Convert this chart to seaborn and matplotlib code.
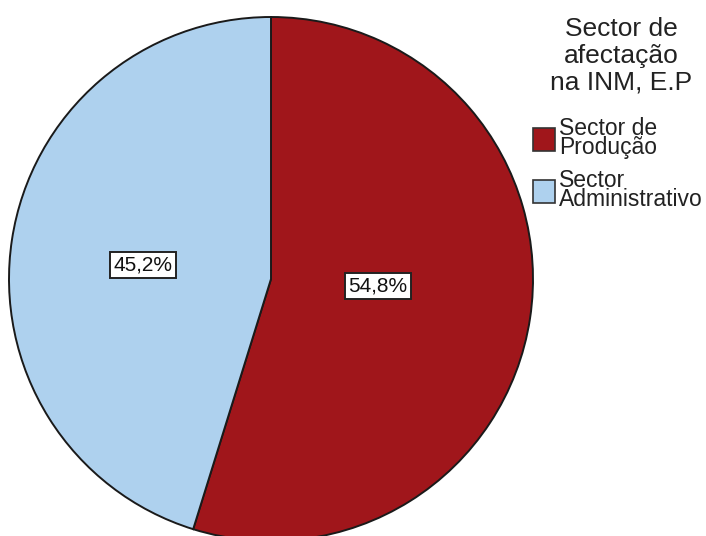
import numpy as np
import matplotlib
matplotlib.use("Agg")
import matplotlib.pyplot as plt
import seaborn as sns

# Sector distribution of staff (percent)
categories = ["Sector de\nProdução", "Sector\nAdministrativo"]
shares = [54.8, 45.2]
pct_labels = ["54,8%", "45,2%"]
legend_title = "Sector de\nafectação\nna INM, E.P"

sns.set_theme(style="white")
plt.rcParams["font.family"] = ["Liberation Sans", "DejaVu Sans"]

colors = sns.color_palette(["#A0161B", "#AED1EE"])

W, H = 706, 536
fig = plt.figure(figsize=(W / 100, H / 100), dpi=100)
fig.patch.set_facecolor("white")

# pie centre (271, 279) px, radius 262 px
cx, cy, r = 271, 279, 262
ax = fig.add_axes([(cx - r) / W, (H - cy - r) / H, 2 * r / W, 2 * r / H])
wedges, _ = ax.pie(shares, colors=colors, startangle=90, counterclock=False,
                   radius=1.0,
                   wedgeprops=dict(edgecolor="#1a1a1a", linewidth=1.4))
ax.set_xlim(-1, 1)
ax.set_ylim(-1, 1)
ax.set_aspect("equal")
ax.axis("off")
for w in wedges:
    w.set_clip_on(False)

# percentage boxes inside each wedge (positions in pie radius units)
label_xy = [(0.408, -0.027), (-0.489, 0.053)]
for (x, y), txt in zip(label_xy, pct_labels):
    ax.text(x, y, txt, ha="center", va="center",
            fontsize=15, color="#111111",
            bbox=dict(boxstyle="square,pad=0.15", facecolor="white",
                      edgecolor="#222222", linewidth=1.4))

# legend heading, centred above the entries
fig.text(621 / W, 1 - 17 / H, legend_title, ha="center", va="top",
         fontsize=19, color="#222222", linespacing=1.15,
         multialignment="center")

leg = fig.legend(wedges, categories,
                 loc="upper left", bbox_to_anchor=(533 / W, 1 - 117 / H),
                 frameon=False, fontsize=16.5,
                 handlelength=0.95, handleheight=1.15, handletextpad=0.2,
                 labelspacing=0.45, borderpad=0.0, borderaxespad=0.0)
for t in leg.get_texts():
    t.set_linespacing(0.78)
    t.set_color("#222222")
for h in leg.legend_handles:
    h.set_edgecolor("#333333")
    h.set_linewidth(1.2)

fig.savefig("out.png", dpi=100)
